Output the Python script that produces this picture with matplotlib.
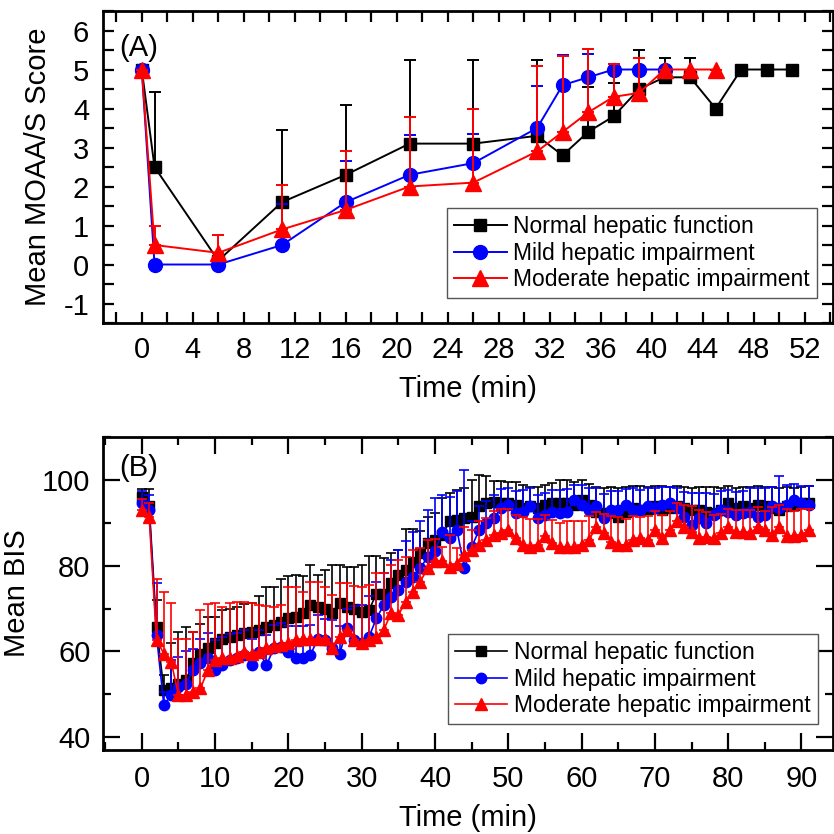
import numpy as np
import matplotlib
matplotlib.use("Agg")
import matplotlib.pyplot as plt
from matplotlib import font_manager
from matplotlib.ticker import MultipleLocator

installed = {f.name for f in font_manager.fontManager.ttflist}
narrow = "Liberation Sans Narrow" if "Liberation Sans Narrow" in installed else "Liberation Sans"
plt.rcParams["font.family"] = ["Liberation Sans", "DejaVu Sans"]
plt.rcParams["axes.unicode_minus"] = False

labels = ["Normal hepatic function", "Mild hepatic impairment", "Moderate hepatic impairment"]

# (A) MOAA/S score
t_normal = [0, 1, 6, 11, 16, 21, 26, 31, 33, 35, 37, 39, 41, 43, 45, 47, 49, 51]
moaas_normal = [5, 2.5, 0.1, 1.6, 2.3, 3.1, 3.1, 3.3, 2.8, 3.4, 3.8, 4.5, 4.8, 4.8, 4.0, 5, 5, 5]
sd_normal = [0, 1.93, 0, 1.85, 1.8, 2.15, 2.15, 1.95, 0, 1.15, 0.86, 1.0, 0.5, 0.5, 0, 0, 0, 0]

t_mild = [0, 1, 6, 11, 16, 21, 26, 31, 33, 35, 37, 39, 41]
moaas_mild = [5, 0, 0, 0.5, 1.6, 2.3, 2.6, 3.5, 4.6, 4.8, 5, 5, 5]
sd_mild = [0, 0, 0, 1.06, 1.05, 1.03, 0.74, 1.07, 0.77, 0.6, 0.13, 0, 0]

t_mod = [0, 1, 6, 11, 16, 21, 26, 31, 33, 35, 37, 39, 41, 43, 45]
moaas_mod = [5, 0.5, 0.3, 0.9, 1.4, 2.0, 2.1, 2.9, 3.4, 3.9, 4.3, 4.4, 5, 5, 5]
sd_mod = [0, 0.5, 0.45, 1.13, 1.5, 1.77, 1.88, 2.18, 1.95, 1.62, 0.83, 0.9, 0, 0, 0]

# (B) BIS, sampled every minute
t_bis = list(range(92))
bis_normal = [96.0, 94.0, 65.8, 51.0, 51.4, 52.5, 53.3, 57.2, 59.5, 60.7,
              61.9, 62.8, 63.4, 63.8, 64.4, 64.6, 65.0, 65.8, 66.1, 66.9,
              67.7, 68.1, 68.9, 70.8, 70.4, 69.8, 68.9, 71.2, 70.4, 69.8,
              69.3, 69.6, 73.5, 73.5, 75.9, 77.8, 79.0, 80.9, 82.9, 85.2,
              86.0, 87.2, 90.3, 90.7, 91.1, 91.4, 93.8, 94.6, 94.9, 94.7,
              94.6, 94.2, 93.4, 93.8, 93.4, 94.2, 94.6, 94.7, 94.6, 94.2,
              95.3, 94.2, 92.6, 92.2, 92.2, 91.4, 92.6, 93.4, 93.0, 93.2,
              93.8, 93.0, 93.4, 93.8, 93.4, 93.0, 93.0, 92.6, 92.2, 93.0,
              94.6, 93.4, 93.8, 93.4, 94.2, 93.8, 93.4, 93.0, 93.8, 94.2,
              94.6, 94.6]
sd_bis_normal = [1.8, 3.8, 6.2, 3.5, 10.6, 12.1, 12.5, 7.4, 7.0, 7.3,
                 6.1, 6.9, 6.6, 6.6, 6.6, 6.6, 8.0, 9.2, 8.9, 10.1,
                 9.8, 9.7, 8.6, 9.4, 7.4, 9.2, 11.3, 9.0, 9.4, 10.0,
                 10.9, 12.7, 8.8, 8.2, 7.0, 5.9, 9.5, 7.6, 5.1, 6.2,
                 6.2, 8.5, 6.6, 7.0, 6.9, 8.5, 7.4, 6.3, 4.9, 5.0,
                 5.0, 5.4, 5.4, 4.6, 5.0, 4.6, 4.6, 5.3, 5.4, 5.4,
                 4.7, 4.8, 5.8, 6.0, 6.2, 6.8, 5.8, 5.2, 5.5, 5.2,
                 4.8, 5.6, 5.0, 4.8, 5.0, 5.2, 5.4, 5.8, 6.2, 5.0,
                 4.0, 4.8, 4.6, 5.0, 4.4, 4.6, 5.0, 5.2, 4.6, 4.0,
                 3.8, 4.0]

bis_mild = [94.6, 93.0, 63.8, 47.5, 49.8, 51.8, 52.5, 55.6, 57.2, 58.4,
            55.6, 56.8, 58.0, 58.4, 59.1, 56.8, 59.9, 56.8, 60.7, 61.1,
            59.9, 58.4, 58.4, 59.1, 63.0, 62.6, 60.7, 59.5, 65.4, 62.6,
            61.9, 63.4, 67.7, 70.8, 72.8, 74.3, 76.3, 77.4, 79.4, 82.1,
            83.3, 87.9, 86.4, 88.3, 79.4, 84.3, 88.3, 89.9, 91.0, 93.4,
            94.2, 92.2, 92.6, 93.8, 91.0, 91.8, 92.6, 92.2, 92.6, 95.3,
            94.2, 93.0, 93.8, 91.0, 93.0, 93.0, 94.2, 93.0, 93.0, 93.8,
            93.4, 94.2, 94.6, 93.4, 91.4, 89.5, 91.0, 89.9, 91.8, 93.0,
            92.6, 91.8, 92.2, 92.6, 91.4, 91.8, 93.8, 93.4, 94.2, 95.3,
            94.6, 94.2]
sd_bis_mild = [2.7, 3.5, 12.2, 3.0, 8.3, 7.0, 7.5, 4.9, 5.8, 6.0,
               7.0, 6.5, 6.0, 6.0, 6.0, 6.0, 5.0, 7.0, 5.5, 5.5,
               6.0, 7.5, 7.5, 7.0, 5.5, 5.0, 6.6, 6.5, 4.5, 8.0,
               9.0, 9.5, 8.5, 7.5, 8.5, 9.4, 9.5, 10.5, 11.0, 10.9,
               12.4, 8.5, 9.5, 9.0, 22.9, 6.0, 5.5, 5.2, 5.5, 4.5,
               3.8, 5.2, 5.0, 4.3, 5.5, 5.2, 5.0, 5.5, 5.3, 3.5,
               4.5, 5.0, 4.4, 5.8, 4.4, 4.4, 3.6, 5.0, 4.6, 4.2,
               4.6, 4.2, 3.8, 4.6, 5.8, 7.5, 6.0, 7.0, 5.0, 4.4,
               5.0, 5.4, 5.2, 5.6, 6.8, 6.4, 4.6, 7.4, 4.6, 3.8,
               4.0, 4.4]

bis_mod = [93.0, 91.4, 62.6, 59.5, 57.6, 49.8, 49.8, 50.6, 51.4, 55.6,
           58.0, 58.4, 58.4, 58.9, 59.9, 59.5, 59.9, 60.7, 61.2, 61.5,
           61.9, 62.6, 62.8, 62.8, 63.0, 63.0, 60.7, 63.4, 65.0, 62.6,
           62.0, 62.6, 63.4, 65.0, 68.9, 68.5, 71.6, 73.9, 76.3, 79.4,
           81.0, 81.0, 79.8, 80.5, 82.5, 83.7, 84.8, 86.0, 87.2, 87.7,
           88.3, 86.4, 84.8, 84.4, 84.8, 86.8, 85.2, 84.4, 84.4, 84.4,
           84.8, 86.0, 89.0, 87.5, 85.6, 84.8, 84.8, 86.0, 86.4, 86.0,
           88.3, 86.4, 88.3, 90.3, 89.1, 87.9, 86.4, 86.6, 86.4, 87.5,
           89.1, 87.9, 87.9, 87.5, 89.1, 88.3, 87.2, 89.1, 86.8, 86.8,
           87.2, 88.3]
sd_bis_mod = [2.5, 3.2, 14.2, 14.4, 13.6, 13.2, 13.2, 14.0, 18.2, 15.4,
              13.2, 12.0, 12.8, 12.7, 11.7, 11.9, 10.9, 9.9, 9.2, 9.3,
              13.2, 12.5, 11.1, 13.3, 13.1, 12.1, 12.5, 12.5, 10.9, 12.7,
              13.1, 12.9, 14.8, 13.3, 11.3, 12.8, 10.5, 9.8, 7.8, 6.6,
              5.2, 3.4, 7.4, 3.5, 6.5, 4.5, 5.5, 5.0, 5.5, 5.5,
              5.0, 5.5, 6.5, 6.5, 6.0, 5.0, 5.5, 5.5, 6.0, 6.0,
              5.5, 5.5, 3.5, 4.5, 6.0, 6.5, 6.0, 5.5, 5.0, 5.5,
              4.5, 5.5, 4.5, 4.2, 5.0, 6.0, 6.5, 6.0, 5.5, 4.5,
              4.0, 5.0, 5.0, 5.5, 4.5, 4.5, 6.5, 5.0, 6.5, 6.0,
              6.0, 5.0]

colors = ["black", "#0000ff", "#ff0000"]
markers = ["s", "o", "^"]


def draw_series(ax, t, y, sd, color, marker, ms, label, lw, capsize):
    sd = np.asarray(sd, dtype=float)
    ax.errorbar(t, y, yerr=[np.zeros_like(sd), sd], fmt="none", ecolor=color,
                elinewidth=lw, capsize=capsize, capthick=lw)
    ax.plot(t, y, color=color, marker=marker, ms=ms, lw=lw, label=label)


def style(ax, tick_font, major_len, minor_len):
    for s in ax.spines.values():
        s.set_linewidth(2)
    ax.tick_params(which="both", direction="in", top=True, right=True, width=1.6)
    ax.tick_params(which="major", length=major_len)
    ax.tick_params(which="minor", length=minor_len)
    for lab in ax.get_xticklabels() + ax.get_yticklabels():
        lab.set_family(tick_font)
        lab.set_fontsize(21)


fig = plt.figure(figsize=(8.34, 8.34), dpi=100)
axA = fig.add_axes([0.1235, 0.6127, 0.8753, 0.3741])
axB = fig.add_axes([0.1235, 0.1007, 0.8753, 0.3753])

# panel A
sets_a = [(t_normal, moaas_normal, sd_normal, 8.5),
          (t_mild, moaas_mild, sd_mild, 10),
          (t_mod, moaas_mod, sd_mod, 12)]
for (t, y, sd, ms), c, m, lab in zip(sets_a, colors, markers, labels):
    draw_series(axA, t, y, sd, c, m, ms, lab, 1.4, 4.5)

axA.set_xlim(-3.04, 54.2)
axA.set_ylim(-1.5, 6.5)
axA.xaxis.set_major_locator(MultipleLocator(4))
axA.xaxis.set_minor_locator(MultipleLocator(2))
axA.yaxis.set_major_locator(MultipleLocator(1))
axA.yaxis.set_minor_locator(MultipleLocator(0.5))
axA.tick_params(axis="x", pad=9)
axA.tick_params(axis="y", pad=10)
style(axA, "Liberation Sans", 8, 8)
axA.set_xlabel("Time (min)", fontsize=21, labelpad=8)
axA.set_ylabel("Mean MOAA/S Score", fontsize=21, labelpad=8)
axA.text(0.022, 0.925, "(A)", transform=axA.transAxes, fontsize=21, va="top")
axA.legend(loc="lower right", bbox_to_anchor=(0.978, 0.08), fontsize=16.5,
           frameon=True, fancybox=False, edgecolor="#555555", framealpha=1,
           handlelength=2.3, handletextpad=0.3, labelspacing=0.15,
           borderpad=0.3, borderaxespad=0)

# panel B
sets_b = [(bis_normal, sd_bis_normal, 7),
          (bis_mild, sd_bis_mild, 7.5),
          (bis_mod, sd_bis_mod, 9)]
for (y, sd, ms), c, m, lab in zip(sets_b, colors, markers, labels):
    draw_series(axB, t_bis, y, sd, c, m, ms, lab, 1.2, 3.6)

axB.set_xlim(-5.3, 94.3)
axB.set_ylim(37, 110)
axB.xaxis.set_major_locator(MultipleLocator(10))
axB.xaxis.set_minor_locator(MultipleLocator(5))
axB.yaxis.set_major_locator(MultipleLocator(20))
axB.yaxis.set_minor_locator(MultipleLocator(10))
axB.tick_params(axis="x", pad=11)
axB.tick_params(axis="y", pad=9)
style(axB, narrow, 12, 6)
axB.set_xlabel("Time (min)", fontsize=21, family=narrow, labelpad=8)
axB.set_ylabel("Mean BIS", fontsize=21, family=narrow, labelpad=8)
axB.text(0.022, 0.945, "(B)", transform=axB.transAxes, fontsize=21, va="top")
axB.legend(loc="lower right", bbox_to_anchor=(0.979, 0.083), fontsize=16.5,
           frameon=True, fancybox=False, edgecolor="#555555", framealpha=1,
           handlelength=2.3, handletextpad=0.3, labelspacing=0.15,
           borderpad=0.3, borderaxespad=0)

fig.savefig("out.png", dpi=100)
